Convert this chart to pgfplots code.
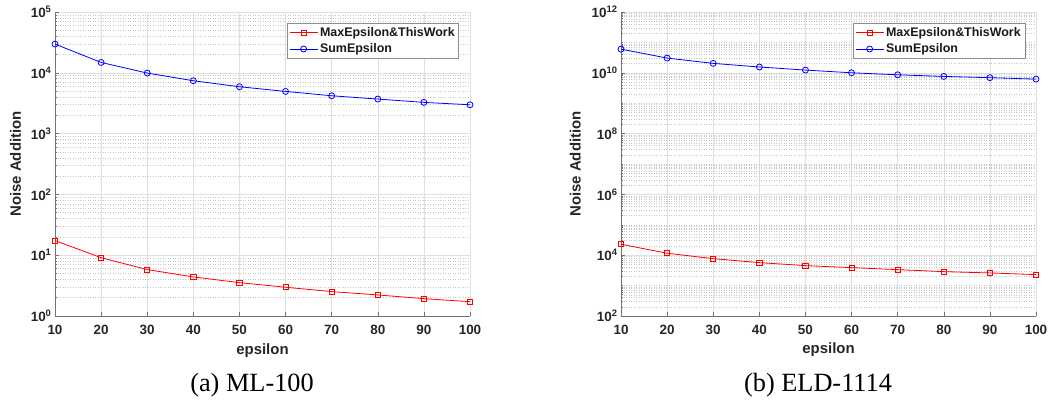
\documentclass[border=0pt]{standalone}
\usepackage{fontspec}
\setmainfont{Liberation Serif}
\newfontfamily\hv{Liberation Sans}
\usepackage{pgfplots}
\pgfplotsset{compat=1.18}

\pgfplotsset{
  every axis/.append style={
    scale only axis, width=415bp, height=304bp,
    xmin=10, xmax=100,
    xtick={10,20,...,100},
    xticklabels={10,20,30,40,50,60,70,80,90,100},
    axis lines=left, axis line style={-, draw=black!55, line width=0.6bp},
    tick align=inside, major tick length=4bp, minor tick length=2bp,
    tick style={draw=black!55, line width=0.5bp},
    grid=both,
    major grid style={draw=black!12, line width=0.5bp, solid},
    minor grid style={draw=black!22, line width=0.45bp, dash pattern=on 0.5bp off 2bp},
    ticklabel style={font=\hv\bfseries\fontsize{13.5}{15}\selectfont, text=black!85},
    xticklabel style={anchor=base, yshift=-19bp},
    label style={font=\hv\bfseries\fontsize{15}{17}\selectfont, text=black!85},
    xlabel style={at={(axis description cs:0.5,-0.125)}, anchor=base},
    legend cell align=left,
    legend style={at={(axis description cs:0.9735,0.9638)}, anchor=north east,
      draw=black!45, line width=0.5bp, fill=white,
      font=\hv\bfseries\fontsize{12.5}{14}\selectfont,
      inner xsep=2bp, inner ysep=2bp, row sep=2bp,
      nodes={inner sep=2bp, text=black!90}},
    clip=false,
  },
}
\pgfplotsset{legend image code/.code={\draw[mark repeat=2,mark phase=2,#1] plot coordinates {(0bp,0bp) (14bp,0bp) (28bp,0bp)};}}

\begin{document}
\begin{tikzpicture}
\path[use as bounding box] (0,0) rectangle (1051bp,403bp);

\begin{axis}[
  at={(55bp,87bp)}, anchor=south west,
  ymode=log,
  ymin=1, ymax=1e5,
  ytick={1,10,100,1000,10000,100000},
  yticklabels={10\textsuperscript{0},10\textsuperscript{1},10\textsuperscript{2},10\textsuperscript{3},10\textsuperscript{4},10\textsuperscript{5}},
  minor ytick={2,3,4,5,6,7,8,9,20,30,40,50,60,70,80,90,200,300,400,500,600,700,800,900,2000,3000,4000,5000,6000,7000,8000,9000,20000,30000,40000,50000,60000,70000,80000,90000},
  xlabel={epsilon},
  ylabel={Noise Addition},
  ylabel style={at={(axis description cs:-0.095,0.5)}, anchor=center},
]
\addplot[color=red, line width=0.8bp, mark=square, mark size=2.6bp, mark options={solid}] coordinates {(10,17.4) (20,9.1) (30,5.8) (40,4.39) (50,3.54) (60,2.97) (70,2.52) (80,2.22) (90,1.93) (100,1.72)};
\addlegendentry{MaxEpsilon\&ThisWork}
\addplot[color=blue, line width=0.8bp, mark=o, mark size=3bp, mark options={solid}] coordinates {(10,29700) (20,14800) (30,9900) (40,7400) (50,5900) (60,4940) (70,4190) (80,3700) (90,3260) (100,2980)};
\addlegendentry{SumEpsilon}
\end{axis}

\begin{axis}[
  at={(621bp,87bp)}, anchor=south west,
  ymode=log,
  ymin=1e2, ymax=1e12,
  ytick={1e2,1e4,1e6,1e8,1e10,1e12},
  yticklabels={10\textsuperscript{2},10\textsuperscript{4},10\textsuperscript{6},10\textsuperscript{8},10\textsuperscript{10},10\textsuperscript{12}},
  minor ytick={2e2,3e2,4e2,5e2,6e2,7e2,8e2,9e2,1e3,2e3,3e3,4e3,5e3,6e3,7e3,8e3,9e3,
    2e4,3e4,4e4,5e4,6e4,7e4,8e4,9e4,1e5,2e5,3e5,4e5,5e5,6e5,7e5,8e5,9e5,
    2e6,3e6,4e6,5e6,6e6,7e6,8e6,9e6,1e7,2e7,3e7,4e7,5e7,6e7,7e7,8e7,9e7,
    2e8,3e8,4e8,5e8,6e8,7e8,8e8,9e8,1e9,2e9,3e9,4e9,5e9,6e9,7e9,8e9,9e9,
    2e10,3e10,4e10,5e10,6e10,7e10,8e10,9e10,1e11,2e11,3e11,4e11,5e11,6e11,7e11,8e11,9e11},
  xlabel={epsilon},
  ylabel={Noise Addition},
  ylabel style={at={(axis description cs:-0.11,0.5)}, anchor=center},
]
\addplot[color=red, line width=0.8bp, mark=square, mark size=2.6bp, mark options={solid}] coordinates {(10,22900) (20,11600) (30,7700) (40,5700) (50,4540) (60,3900) (70,3350) (80,2880) (90,2610) (100,2300)};
\addlegendentry{MaxEpsilon\&ThisWork}
\addplot[color=blue, line width=0.8bp, mark=o, mark size=3bp, mark options={solid}] coordinates {(10,6.0e10) (20,3.05e10) (30,2.04e10) (40,1.55e10) (50,1.23e10) (60,1.0e10) (70,8.6e9) (80,7.6e9) (90,6.9e9) (100,6.2e9)};
\addlegendentry{SumEpsilon}
\end{axis}

\node[anchor=base, font=\fontsize{26.4}{30}\selectfont] at (252bp,12bp) {(a) ML-100};
\node[anchor=base, font=\fontsize{26.4}{30}\selectfont] at (818bp,12bp) {(b) ELD-1114};
\end{tikzpicture}
\end{document}
